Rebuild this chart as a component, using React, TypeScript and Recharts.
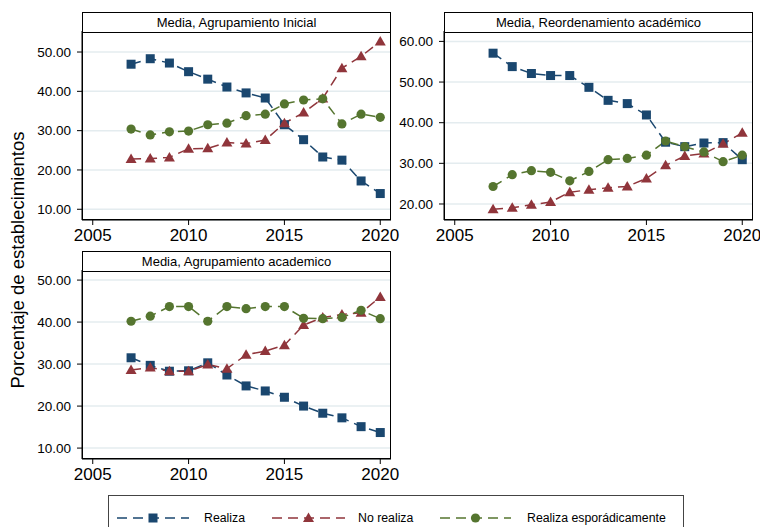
import { LineChart, Line, XAxis, YAxis, CartesianGrid } from 'recharts';

const FONT = '"Liberation Sans", Arial, sans-serif';
const BLUE = '#1a476f';
const RED = '#90353b';
const GREEN = '#55752f';
const GRID = '#e4ecef';

const years = [2007, 2008, 2009, 2010, 2011, 2012, 2013, 2014, 2015, 2016, 2017, 2018, 2019, 2020];
const xTicks = [2005, 2010, 2015, 2020];

// Media, Agrupamiento Inicial
const inicialRealiza = [46.9, 48.3, 47.2, 45.0, 43.1, 41.1, 39.6, 38.3, 31.5, 27.7, 23.3, 22.5, 17.2, 14.0];
const inicialNoRealiza = [22.8, 22.9, 23.2, 25.4, 25.5, 27.0, 26.7, 27.6, 31.9, 34.6, 38.2, 45.9, 48.9, 52.7];
const inicialEsporadica = [30.4, 28.9, 29.7, 29.9, 31.5, 31.9, 33.8, 34.2, 36.8, 37.8, 38.1, 31.7, 34.2, 33.4];

// Media, Reordenamiento académico
const reordRealiza = [57.1, 53.8, 52.1, 51.6, 51.6, 48.7, 45.5, 44.7, 41.9, 35.2, 34.1, 35.0, 35.1, 30.9];
const reordNoRealiza = [18.7, 19.1, 19.8, 20.5, 22.9, 23.5, 24.0, 24.3, 26.3, 29.5, 31.8, 32.4, 34.8, 37.5];
const reordEsporadica = [24.3, 27.2, 28.2, 27.8, 25.7, 28.0, 30.9, 31.2, 32.0, 35.5, 34.1, 32.8, 30.4, 32.0];

// Media, Agrupamiento academico
const academRealiza = [31.5, 29.7, 28.3, 28.4, 30.3, 27.4, 24.8, 23.6, 22.1, 20.0, 18.3, 17.2, 15.1, 13.7];
const academNoRealiza = [28.6, 29.2, 28.3, 28.3, 29.9, 28.9, 32.2, 33.1, 34.5, 39.3, 41.1, 41.8, 42.2, 46.0];
const academEsporadica = [40.2, 41.4, 43.7, 43.7, 40.2, 43.7, 43.2, 43.7, 43.7, 40.9, 40.8, 41.1, 42.8, 40.8];

const buildRows = (a: number[], b: number[], c: number[]) =>
  years.map((year, i) => ({ year, realiza: a[i], noRealiza: b[i], esporadica: c[i] }));

const SquareDot = (p: any) => (
  <rect key={p.key ?? `s${p.index}`} x={p.cx - 4.5} y={p.cy - 4.5} width={9} height={9} fill={BLUE} />
);
const TriangleDot = (p: any) => (
  <polygon
    key={p.key ?? `t${p.index}`}
    points={`${p.cx},${p.cy - 5.5} ${p.cx - 5.5},${p.cy + 4} ${p.cx + 5.5},${p.cy + 4}`}
    fill={RED}
  />
);
const CircleDot = (p: any) => <circle key={p.key ?? `c${p.index}`} cx={p.cx} cy={p.cy} r={4.6} fill={GREEN} />;

function Panel({
  left,
  top,
  title,
  rows,
  yDomain,
  yTicks,
}: {
  left: number;
  top: number;
  title: string;
  rows: Record<string, number>[];
  yDomain: [number, number];
  yTicks: number[];
}) {
  return (
    <div style={{ position: 'absolute', left, top, width: 400, height: 250 }}>
      <LineChart width={400} height={250} data={rows} margin={{ top: 31, right: 9, left: 0, bottom: 0 }}>
        <CartesianGrid horizontal vertical={false} stroke={GRID} strokeWidth={1.5} />
        <XAxis
          dataKey="year"
          type="number"
          domain={[2004.44, 2020.56]}
          ticks={xTicks}
          allowDataOverflow
          height={30}
          tickSize={5}
          tickMargin={4}
          stroke="#000"
          tick={{ fontSize: 17, fill: '#000', fontFamily: FONT }}
        />
        <YAxis
          type="number"
          domain={yDomain}
          ticks={yTicks}
          allowDataOverflow
          width={82}
          tickSize={5}
          tickMargin={6}
          stroke="#000"
          tickFormatter={(v: number) => v.toFixed(2)}
          tick={{ fontSize: 13.5, fill: '#000', fontFamily: FONT }}
        />
        <Line
          dataKey="realiza"
          stroke={BLUE}
          strokeWidth={1.5}
          strokeDasharray="10 6"
          dot={SquareDot}
          isAnimationActive={false}
        />
        <Line
          dataKey="noRealiza"
          stroke={RED}
          strokeWidth={1.5}
          strokeDasharray="10 6"
          dot={TriangleDot}
          isAnimationActive={false}
        />
        <Line
          dataKey="esporadica"
          stroke={GREEN}
          strokeWidth={1.5}
          strokeDasharray="10 6"
          dot={CircleDot}
          isAnimationActive={false}
        />
      </LineChart>
      {/* caja del panel */}
      <div
        style={{
          position: 'absolute',
          left: 82,
          top: 31,
          width: 309,
          height: 189,
          boxSizing: 'border-box',
          border: '1px solid #000',
          borderTop: '2px solid #000',
          pointerEvents: 'none',
        }}
      />
      {/* franja del título */}
      <div
        style={{
          position: 'absolute',
          left: 82,
          top: 12,
          width: 309,
          height: 20,
          boxSizing: 'border-box',
          border: '1px solid #000',
          borderBottom: 'none',
          background: '#fff',
          fontFamily: FONT,
          fontSize: 13,
          lineHeight: '19px',
          textAlign: 'center',
          color: '#000',
        }}
      >
        {title}
      </div>
    </div>
  );
}

function LegendItem({
  color,
  marker,
  label,
  left,
  lineWidth,
  textLeft,
}: {
  color: string;
  marker: string;
  label: string;
  left: number;
  lineWidth: number;
  textLeft: number;
}) {
  const mid = lineWidth / 2;
  return (
    <>
      <svg style={{ position: 'absolute', left, top: 15 }} width={lineWidth} height={14}>
        <line x1={0} y1={7} x2={lineWidth} y2={7} stroke={color} strokeWidth={1.5} strokeDasharray="10 6" />
        {marker === 'square' && <rect x={mid - 4.5} y={2.5} width={9} height={9} fill={color} />}
        {marker === 'triangle' && <polygon points={`${mid},1.5 ${mid - 5.5},11 ${mid + 5.5},11`} fill={color} />}
        {marker === 'circle' && <circle cx={mid} cy={7} r={4.6} fill={color} />}
      </svg>
      <span
        style={{
          position: 'absolute',
          left: textLeft,
          top: 14,
          fontFamily: FONT,
          fontSize: 12.3,
          lineHeight: '16px',
          color: '#000',
          whiteSpace: 'nowrap',
        }}
      >
        {label}
      </span>
    </>
  );
}

export default function App() {
  return (
    <div style={{ position: 'absolute', left: 0, top: 0, width: 760, height: 527, background: '#fff', overflow: 'hidden' }}>
      <Panel
        left={0}
        top={0}
        title="Media, Agrupamiento Inicial"
        rows={buildRows(inicialRealiza, inicialNoRealiza, inicialEsporadica)}
        yDomain={[7.27, 55.35]}
        yTicks={[10, 20, 30, 40, 50]}
      />
      <Panel
        left={362}
        top={0}
        title="Media, Reordenamiento académico"
        rows={buildRows(reordRealiza, reordNoRealiza, reordEsporadica)}
        yDomain={[16.06, 62.56]}
        yTicks={[20, 30, 40, 50, 60]}
      />
      <Panel
        left={0}
        top={239}
        title="Media, Agrupamiento academico"
        rows={buildRows(academRealiza, academNoRealiza, academEsporadica)}
        yDomain={[7.4, 52.4]}
        yTicks={[10, 20, 30, 40, 50]}
      />
      {/* título eje Y */}
      <div
        style={{
          position: 'absolute',
          left: 18,
          top: 260,
          transform: 'translate(-50%, -50%) rotate(-90deg)',
          fontFamily: FONT,
          fontSize: 18.5,
          color: '#000',
          whiteSpace: 'nowrap',
        }}
      >
        Porcentaje de establecimientos
      </div>
      {/* leyenda */}
      <div
        style={{
          position: 'absolute',
          left: 108,
          top: 495,
          width: 576,
          height: 45,
          boxSizing: 'border-box',
          border: '1px solid #444',
        }}
      >
        <LegendItem color={BLUE} marker="square" label="Realiza" left={8} lineWidth={72} textLeft={95} />
        <LegendItem color={RED} marker="triangle" label="No realiza" left={163} lineWidth={73} textLeft={249} />
        <LegendItem
          color={GREEN}
          marker="circle"
          label="Realiza esporádicamente"
          left={331}
          lineWidth={71}
          textLeft={418}
        />
      </div>
    </div>
  );
}
